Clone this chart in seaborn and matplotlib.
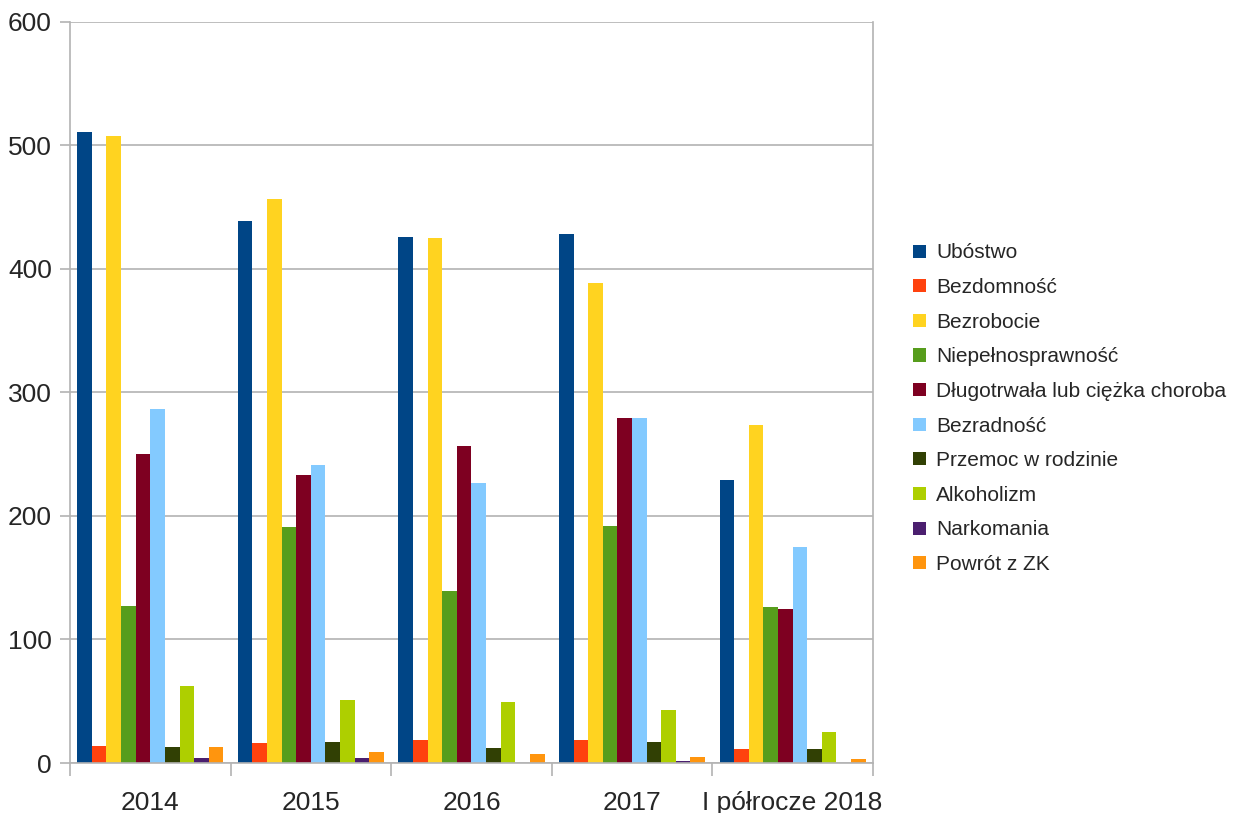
import numpy as np
import pandas as pd
import matplotlib
matplotlib.use("Agg")
import matplotlib.pyplot as plt
import seaborn as sns
from matplotlib.ticker import FixedLocator

years = ["2014", "2015", "2016", "2017", "I półrocze 2018"]
categories = ["Ubóstwo", "Bezdomność", "Bezrobocie", "Niepełnosprawność",
              "Długotrwała lub ciężka choroba", "Bezradność", "Przemoc w rodzinie",
              "Alkoholizm", "Narkomania", "Powrót z ZK"]
ubostwo = [511, 439, 426, 428, 229]
bezdomnosc = [14, 16, 19, 19, 11]
bezrobocie = [508, 457, 425, 389, 274]
niepelnosprawnosc = [127, 191, 139, 192, 126]
choroba = [250, 233, 257, 279, 125]
bezradnosc = [287, 241, 227, 279, 175]
przemoc = [13, 17, 12, 17, 11]
alkoholizm = [62, 51, 49, 43, 25]
narkomania = [4, 4, 0, 2, 0]
powrot = [13, 9, 7, 5, 3]
colors = ["#004586", "#ff420e", "#ffd320", "#579d1c", "#7e0021",
          "#83caff", "#314004", "#aecf00", "#4b1f6f", "#ff950e"]

series = [ubostwo, bezdomnosc, bezrobocie, niepelnosprawnosc, choroba,
          bezradnosc, przemoc, alkoholizm, narkomania, powrot]
rows = []
for cat, vals in zip(categories, series):
    for y, v in zip(years, vals):
        rows.append({"rok": y, "kategoria": cat, "liczba": v})
df = pd.DataFrame(rows)

sns.set_style("white")
plt.rcParams['font.family'] = ['Liberation Sans', 'DejaVu Sans']

fig = plt.figure(figsize=(12.39, 8.13), dpi=100)
ax = fig.add_axes([0.0565, 0.0615, 0.648, 0.9115])
sns.barplot(data=df, x="rok", y="liczba", hue="kategoria", order=years,
            hue_order=categories, palette=colors, width=0.91, saturation=1,
            ax=ax, errorbar=None, linewidth=0)

ax.set_ylim(0, 600)
ax.set_xlim(-0.5, 4.5)
ax.set_yticks(range(0, 601, 100))
ax.yaxis.grid(True, color="#b3b3b3", linewidth=1.2)
ax.set_axisbelow(True)
ax.set_xlabel("")
ax.set_ylabel("")
for s in ax.spines.values():
    s.set_color("#b3b3b3")
    s.set_linewidth(1.2)
ax.spines["top"].set_visible(False)
ax.xaxis.set_minor_locator(FixedLocator(np.arange(-0.5, 5.0, 1.0)))
ax.tick_params(axis="x", which="major", length=0, pad=20, labelsize=19)
ax.tick_params(axis="x", which="minor", length=9, width=1.2, color="#b3b3b3", direction="out", bottom=True)
ax.tick_params(axis="y", which="major", length=7, width=1.2, color="#b3b3b3", direction="out", left=True, pad=6, labelsize=19)

ax.legend(loc="center left", bbox_to_anchor=(1.04, 0.478), frameon=False,
          fontsize=15, handlelength=0.6, handleheight=0.6, handletextpad=0.5,
          labelspacing=0.75, borderaxespad=0)

fig.savefig("out.png", dpi=100)
